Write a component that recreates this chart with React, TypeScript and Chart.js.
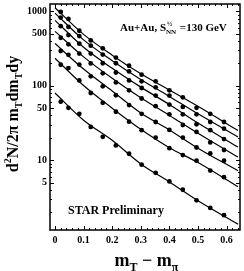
import React, { useEffect, useRef } from "react";
import { Chart, registerables } from "chart.js";

Chart.register(...registerables);

// m_T - m_pi bin centres (GeV)
const mtBins = [0.02, 0.047, 0.085, 0.125, 0.167, 0.213, 0.259, 0.303, 0.352, 0.4, 0.447, 0.495, 0.543, 0.591];

// measured spectra (top to bottom)
const series1 = [985, 794, 550, 408, 319, 240, 186, 141, 115, 87, 70, 50.6, 42, 32.6];
const series2 = [827, 621, 467, 347, 263, 201, 156, 115, 95.5, 74, 52, 41.3, 32.6, 26.5];
const series3 = [635, 482, 369, 271, 201, 151, 118, 93.5, 74, 56, 41.3, 30.4, 25.3, 19.2];
const series4 = [443, 361, 271, 200, 147, 111, 87, 67.5, 53.3, 41.3, 29.7, 24, 17.3, 13.7];
const series5 = [294, 261, 193, 134, 98.5, 74.7, 55, 42, 32.6, 25.5, 20.1, 14.8, 12.3, 9.85];
const series6 = [192, 173, 118, 80, 59, 44.8, 32.9, 25.3, 20.1, 14.5, 11.7, 9.85, 7.25, 5.9];
const series7 = [61.2, 50.6, 42, 28, 20.6, 15.8, 12.2, 8.7, 6.75, 5.17, 4.0, 2.88, 2.28, 1.82];

// fit curves, read at these m_T - m_pi positions
const fitX = [0, 0.1, 0.2, 0.3, 0.4, 0.5, 0.64];
const fit1 = [1120, 492, 258, 145, 88, 53, 25];
const fit2 = [950, 415, 218, 122, 72, 42, 20.5];
const fit3 = [760, 330, 172, 96, 56, 31.5, 15];
const fit4 = [540, 245, 126, 69, 40, 23, 11];
const fit5 = [370, 168, 85, 43, 25.5, 14.5, 7.2];
const fit6 = [235, 101, 50, 26, 14.7, 9.3, 4.4];
const fit7 = [80, 34.5, 18.5, 8.9, 5.1, 2.85, 1.38];

const xTickValues = [0, 0.1, 0.2, 0.3, 0.4, 0.5, 0.6];
const xTickLabels = ["0", "0.1", "0.2", "0.3", "0.4", "0.5", "0.6"];
const yTickValues = [1000, 500, 100, 50, 10, 5];
const yTickLabels = ["1000", "500", "100", "50", "10", "5"];

const SERIF = '"Liberation Serif", "DejaVu Serif", serif';

type Piece = { t: string; k?: "sub" | "sup" };

function drawRich(ctx: CanvasRenderingContext2D, pieces: Piece[], x: number, y: number, size: number, align: "left" | "center") {
  const big = `bold ${size}px ${SERIF}`;
  const small = `bold ${Math.round(size * 0.65)}px ${SERIF}`;
  let total = 0;
  for (const p of pieces) {
    ctx.font = p.k ? small : big;
    total += ctx.measureText(p.t).width;
  }
  let cx = align === "center" ? x - total / 2 : x;
  ctx.textAlign = "left";
  ctx.textBaseline = "alphabetic";
  for (const p of pieces) {
    ctx.font = p.k ? small : big;
    const dy = p.k === "sub" ? size * 0.28 : p.k === "sup" ? -size * 0.42 : 0;
    ctx.fillText(p.t, cx, y + dy);
    cx += ctx.measureText(p.t).width;
  }
}

const decorPlugin = {
  id: "decor",
  afterDraw(chart: any) {
    const { ctx, chartArea } = chart;
    const xs = chart.scales.x;
    const ys = chart.scales.y;
    const { left, right, top, bottom } = chartArea;
    ctx.save();
    ctx.strokeStyle = "#000";
    ctx.fillStyle = "#000";
    // frame
    ctx.lineWidth = 1.5;
    ctx.strokeRect(left, top, right - left, bottom - top);
    ctx.lineWidth = 1;
    // x ticks (major 0.1, minor 0.02)
    for (let i = -1; i <= 33; i++) {
      const v = i * 0.02;
      if (v < xs.min || v > xs.max) continue;
      const px = Math.round(xs.getPixelForValue(v)) + 0.5;
      const major = i % 5 === 0;
      const len = major ? 4 : 2;
      ctx.beginPath();
      ctx.moveTo(px, bottom);
      ctx.lineTo(px, bottom - len);
      ctx.moveTo(px, top);
      ctx.lineTo(px, top + len);
      ctx.stroke();
    }
    // y ticks
    for (let d = 0; d <= 3; d++) {
      for (let m = 1; m <= 9; m++) {
        const v = m * Math.pow(10, d);
        if (v < ys.min || v > ys.max) continue;
        const py = Math.round(ys.getPixelForValue(v)) + 0.5;
        const major = m === 1 || m === 5;
        const len = major ? 4 : 2;
        ctx.beginPath();
        ctx.moveTo(left, py);
        ctx.lineTo(left + len, py);
        ctx.moveTo(right, py);
        ctx.lineTo(right - len, py);
        ctx.stroke();
      }
    }
    // tick labels
    ctx.font = `bold 10px ${SERIF}`;
    ctx.textAlign = "center";
    ctx.textBaseline = "middle";
    xTickValues.forEach((v, i) => {
      ctx.fillText(xTickLabels[i], xs.getPixelForValue(v), bottom + 10);
    });
    ctx.textAlign = "right";
    yTickValues.forEach((v, i) => {
      ctx.fillText(yTickLabels[i], left - 3, ys.getPixelForValue(v));
    });
    // x title
    drawRich(ctx, [{ t: "m" }, { t: "T", k: "sub" }, { t: " \u2212 m" }, { t: "\u03c0", k: "sub" }], 146.5, 266, 18, "center");
    // y title
    ctx.save();
    ctx.translate(18, 114);
    ctx.rotate(-Math.PI / 2);
    drawRich(ctx, [
      { t: "d" }, { t: "2", k: "sup" }, { t: "N/2\u03c0 m" }, { t: "T", k: "sub" },
      { t: "dm" }, { t: "T", k: "sub" }, { t: "dy" },
    ], 0, 0, 16, "center");
    ctx.restore();
    // annotation
    ctx.font = `bold 11px ${SERIF}`;
    ctx.textAlign = "left";
    ctx.textBaseline = "alphabetic";
    const a1 = "Au+Au, S";
    ctx.fillText(a1, 120, 31);
    let ax = 120 + ctx.measureText(a1).width;
    ctx.font = `bold 7px ${SERIF}`;
    ctx.fillText("\u00bd", ax + 1, 26);
    ctx.fillText("NN", ax, 34);
    ax += ctx.measureText("NN").width + 1;
    ctx.font = `bold 11px ${SERIF}`;
    ctx.fillText(" =130 GeV", ax, 31);
    // preliminary
    ctx.font = `bold 12px ${SERIF}`;
    ctx.fillText("STAR Preliminary", 68, 214);
    ctx.restore();
  },
};

const pointSets = [series1, series2, series3, series4, series5, series6, series7];
const fitSets = [fit1, fit2, fit3, fit4, fit5, fit6, fit7];

export default function App() {
  const ref = useRef<HTMLCanvasElement | null>(null);
  useEffect(() => {
    document.body.style.margin = "0";
    if (!ref.current) return;
    const datasets: any[] = [];
    fitSets.forEach((f) => {
      datasets.push({
        data: fitX.map((x, i) => ({ x, y: f[i] })),
        showLine: true,
        borderColor: "#000",
        borderWidth: 1.2,
        pointRadius: 0,
        cubicInterpolationMode: "monotone",
      });
    });
    pointSets.forEach((s) => {
      datasets.push({
        data: mtBins.map((x, i) => ({ x, y: s[i] })),
        showLine: false,
        pointRadius: 2.4,
        pointBackgroundColor: "#000",
        pointBorderColor: "#000",
        pointBorderWidth: 0,
      });
    });
    const chart = new Chart(ref.current, {
      type: "scatter",
      data: { datasets },
      options: {
        animation: false,
        responsive: false,
        devicePixelRatio: 1,
        layout: { padding: { left: 50, right: 4, top: 2, bottom: 41 } },
        plugins: { legend: { display: false }, tooltip: { enabled: false } },
        scales: {
          x: { type: "linear", min: -0.0175, max: 0.647, display: false },
          y: { type: "logarithmic", min: 1.15, max: 1260, display: false },
        },
      },
      plugins: [decorPlugin],
    });
    return () => chart.destroy();
  }, []);
  return <canvas ref={ref} width={244} height={271} style={{ display: "block" }} />;
}
